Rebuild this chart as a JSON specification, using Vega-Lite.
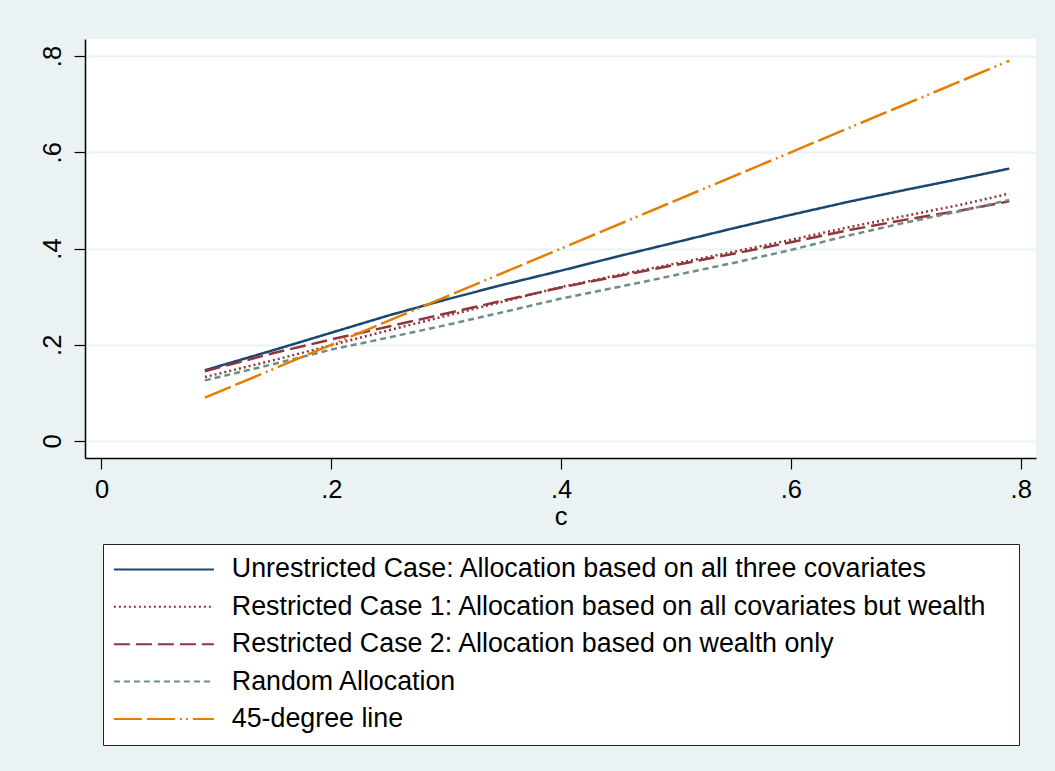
{
  "$schema": "https://vega.github.io/schema/vega-lite/v6.json",
  "autosize": "none",
  "width": 951,
  "height": 419,
  "padding": {"left": 85, "top": 39, "right": 19, "bottom": 313},
  "background": "#EAF2F3",
  "config": {
    "font": "Liberation Sans",
    "view": {"fill": "white", "stroke": null},
    "axis": {
      "domainColor": "#000000",
      "domainWidth": 1.5,
      "tickColor": "#000000",
      "tickWidth": 1.2,
      "tickSize": 11,
      "labelFont": "Liberation Sans",
      "labelFontSize": 25.5,
      "labelColor": "#000000",
      "titleFont": "Liberation Sans",
      "titleFontSize": 25.5,
      "titleFontWeight": "normal",
      "titleColor": "#000000"
    }
  },
  "data": {
    "values": [
      {"c": 0.09, "v": 0.147, "s": "Unrestricted Case: Allocation based on all three covariates"},
      {"c": 0.15, "v": 0.189, "s": "Unrestricted Case: Allocation based on all three covariates"},
      {"c": 0.2, "v": 0.225, "s": "Unrestricted Case: Allocation based on all three covariates"},
      {"c": 0.25, "v": 0.261, "s": "Unrestricted Case: Allocation based on all three covariates"},
      {"c": 0.3, "v": 0.294, "s": "Unrestricted Case: Allocation based on all three covariates"},
      {"c": 0.35, "v": 0.325, "s": "Unrestricted Case: Allocation based on all three covariates"},
      {"c": 0.4, "v": 0.354, "s": "Unrestricted Case: Allocation based on all three covariates"},
      {"c": 0.45, "v": 0.384, "s": "Unrestricted Case: Allocation based on all three covariates"},
      {"c": 0.5, "v": 0.413, "s": "Unrestricted Case: Allocation based on all three covariates"},
      {"c": 0.55, "v": 0.442, "s": "Unrestricted Case: Allocation based on all three covariates"},
      {"c": 0.6, "v": 0.47, "s": "Unrestricted Case: Allocation based on all three covariates"},
      {"c": 0.65, "v": 0.497, "s": "Unrestricted Case: Allocation based on all three covariates"},
      {"c": 0.7, "v": 0.522, "s": "Unrestricted Case: Allocation based on all three covariates"},
      {"c": 0.75, "v": 0.546, "s": "Unrestricted Case: Allocation based on all three covariates"},
      {"c": 0.79, "v": 0.566, "s": "Unrestricted Case: Allocation based on all three covariates"},
      {"c": 0.09, "v": 0.133, "s": "Restricted Case 1: Allocation based on all covariates but wealth"},
      {"c": 0.15, "v": 0.168, "s": "Restricted Case 1: Allocation based on all covariates but wealth"},
      {"c": 0.2, "v": 0.199, "s": "Restricted Case 1: Allocation based on all covariates but wealth"},
      {"c": 0.25, "v": 0.23, "s": "Restricted Case 1: Allocation based on all covariates but wealth"},
      {"c": 0.3, "v": 0.26, "s": "Restricted Case 1: Allocation based on all covariates but wealth"},
      {"c": 0.35, "v": 0.29, "s": "Restricted Case 1: Allocation based on all covariates but wealth"},
      {"c": 0.4, "v": 0.32, "s": "Restricted Case 1: Allocation based on all covariates but wealth"},
      {"c": 0.45, "v": 0.345, "s": "Restricted Case 1: Allocation based on all covariates but wealth"},
      {"c": 0.5, "v": 0.369, "s": "Restricted Case 1: Allocation based on all covariates but wealth"},
      {"c": 0.55, "v": 0.393, "s": "Restricted Case 1: Allocation based on all covariates but wealth"},
      {"c": 0.6, "v": 0.418, "s": "Restricted Case 1: Allocation based on all covariates but wealth"},
      {"c": 0.65, "v": 0.444, "s": "Restricted Case 1: Allocation based on all covariates but wealth"},
      {"c": 0.7, "v": 0.468, "s": "Restricted Case 1: Allocation based on all covariates but wealth"},
      {"c": 0.75, "v": 0.492, "s": "Restricted Case 1: Allocation based on all covariates but wealth"},
      {"c": 0.79, "v": 0.514, "s": "Restricted Case 1: Allocation based on all covariates but wealth"},
      {"c": 0.09, "v": 0.145, "s": "Restricted Case 2: Allocation based on wealth only"},
      {"c": 0.15, "v": 0.183, "s": "Restricted Case 2: Allocation based on wealth only"},
      {"c": 0.2, "v": 0.211, "s": "Restricted Case 2: Allocation based on wealth only"},
      {"c": 0.25, "v": 0.238, "s": "Restricted Case 2: Allocation based on wealth only"},
      {"c": 0.3, "v": 0.265, "s": "Restricted Case 2: Allocation based on wealth only"},
      {"c": 0.35, "v": 0.292, "s": "Restricted Case 2: Allocation based on wealth only"},
      {"c": 0.4, "v": 0.319, "s": "Restricted Case 2: Allocation based on wealth only"},
      {"c": 0.45, "v": 0.343, "s": "Restricted Case 2: Allocation based on wealth only"},
      {"c": 0.5, "v": 0.366, "s": "Restricted Case 2: Allocation based on wealth only"},
      {"c": 0.55, "v": 0.389, "s": "Restricted Case 2: Allocation based on wealth only"},
      {"c": 0.6, "v": 0.413, "s": "Restricted Case 2: Allocation based on wealth only"},
      {"c": 0.65, "v": 0.438, "s": "Restricted Case 2: Allocation based on wealth only"},
      {"c": 0.7, "v": 0.46, "s": "Restricted Case 2: Allocation based on wealth only"},
      {"c": 0.75, "v": 0.48, "s": "Restricted Case 2: Allocation based on wealth only"},
      {"c": 0.79, "v": 0.498, "s": "Restricted Case 2: Allocation based on wealth only"},
      {"c": 0.09, "v": 0.126, "s": "Random Allocation"},
      {"c": 0.15, "v": 0.16, "s": "Random Allocation"},
      {"c": 0.2, "v": 0.19, "s": "Random Allocation"},
      {"c": 0.25, "v": 0.215, "s": "Random Allocation"},
      {"c": 0.3, "v": 0.241, "s": "Random Allocation"},
      {"c": 0.35, "v": 0.268, "s": "Random Allocation"},
      {"c": 0.4, "v": 0.296, "s": "Random Allocation"},
      {"c": 0.45, "v": 0.32, "s": "Random Allocation"},
      {"c": 0.5, "v": 0.345, "s": "Random Allocation"},
      {"c": 0.55, "v": 0.37, "s": "Random Allocation"},
      {"c": 0.6, "v": 0.397, "s": "Random Allocation"},
      {"c": 0.65, "v": 0.427, "s": "Random Allocation"},
      {"c": 0.7, "v": 0.454, "s": "Random Allocation"},
      {"c": 0.75, "v": 0.479, "s": "Random Allocation"},
      {"c": 0.79, "v": 0.501, "s": "Random Allocation"},
      {"c": 0.09, "v": 0.09, "s": "45-degree line"},
      {"c": 0.79, "v": 0.79, "s": "45-degree line"}
    ]
  },
  "mark": {"type": "line", "strokeWidth": 2.5, "clip": true},
  "encoding": {
    "x": {
      "field": "c",
      "type": "quantitative",
      "scale": {"domain": [-0.01436, 0.8133], "nice": false, "zero": false},
      "axis": {
        "title": "c",
        "values": [0, 0.2, 0.4, 0.6, 0.8],
        "labelExpr": "datum.value == 0 ? '0' : '.' + round(datum.value * 10)",
        "grid": false,
        "labelPadding": 8,
        "titlePadding": 2
      }
    },
    "y": {
      "field": "v",
      "type": "quantitative",
      "scale": {"domain": [-0.0353, 0.8353], "nice": false, "zero": false},
      "axis": {
        "title": null,
        "values": [0, 0.2, 0.4, 0.6, 0.8],
        "labelExpr": "datum.value == 0 ? '0' : '.' + round(datum.value * 10)",
        "labelAngle": -90,
        "labelAlign": "center",
        "labelBaseline": "alphabetic",
        "labelPadding": 14,
        "grid": true,
        "gridColor": "#EAF2F3",
        "gridWidth": 2
      }
    },
    "color": {
      "field": "s",
      "type": "nominal",
      "sort": null,
      "scale": {
        "domain": [
          "Unrestricted Case: Allocation based on all three covariates",
          "Restricted Case 1: Allocation based on all covariates but wealth",
          "Restricted Case 2: Allocation based on wealth only",
          "Random Allocation",
          "45-degree line"
        ],
        "range": ["#1A476F", "#90353B", "#90353B", "#6E8E84", "#E37E00"]
      },
      "legend": {
        "title": null,
        "orient": "none",
        "legendX": 18,
        "legendY": 505,
        "direction": "vertical",
        "padding": 12,
        "strokeColor": "#222222",
        "fillColor": "white",
        "symbolType": "M-1.45,0H8.55",
        "symbolSize": 400,
        "symbolStrokeWidth": 2,
        "labelOffset": 90,
        "labelFontSize": 26.8,
        "labelFont": "Liberation Sans",
        "labelColor": "#000000",
        "labelLimit": 2000,
        "rowPadding": 9.4,
        "labelExpr": "datum.label + '\u2800'"
      }
    },
    "strokeDash": {
      "field": "s",
      "type": "nominal",
      "sort": null,
      "scale": {
        "domain": [
          "Unrestricted Case: Allocation based on all three covariates",
          "Restricted Case 1: Allocation based on all covariates but wealth",
          "Restricted Case 2: Allocation based on wealth only",
          "Random Allocation",
          "45-degree line"
        ],
        "range": [[1, 0], [2, 3], [16, 6], [6, 4], [28, 5, 28, 5, 2, 4, 2, 5]]
      },
      "legend": {
        "title": null,
        "orient": "none",
        "legendX": 18,
        "legendY": 505,
        "direction": "vertical",
        "padding": 12,
        "strokeColor": "#222222",
        "fillColor": "white",
        "symbolType": "M-1.45,0H8.55",
        "symbolSize": 400,
        "symbolStrokeWidth": 2,
        "labelOffset": 90,
        "labelFontSize": 26.8,
        "labelFont": "Liberation Sans",
        "labelColor": "#000000",
        "labelLimit": 2000,
        "rowPadding": 9.4,
        "labelExpr": "datum.label + '\u2800'"
      }
    }
  }
}
